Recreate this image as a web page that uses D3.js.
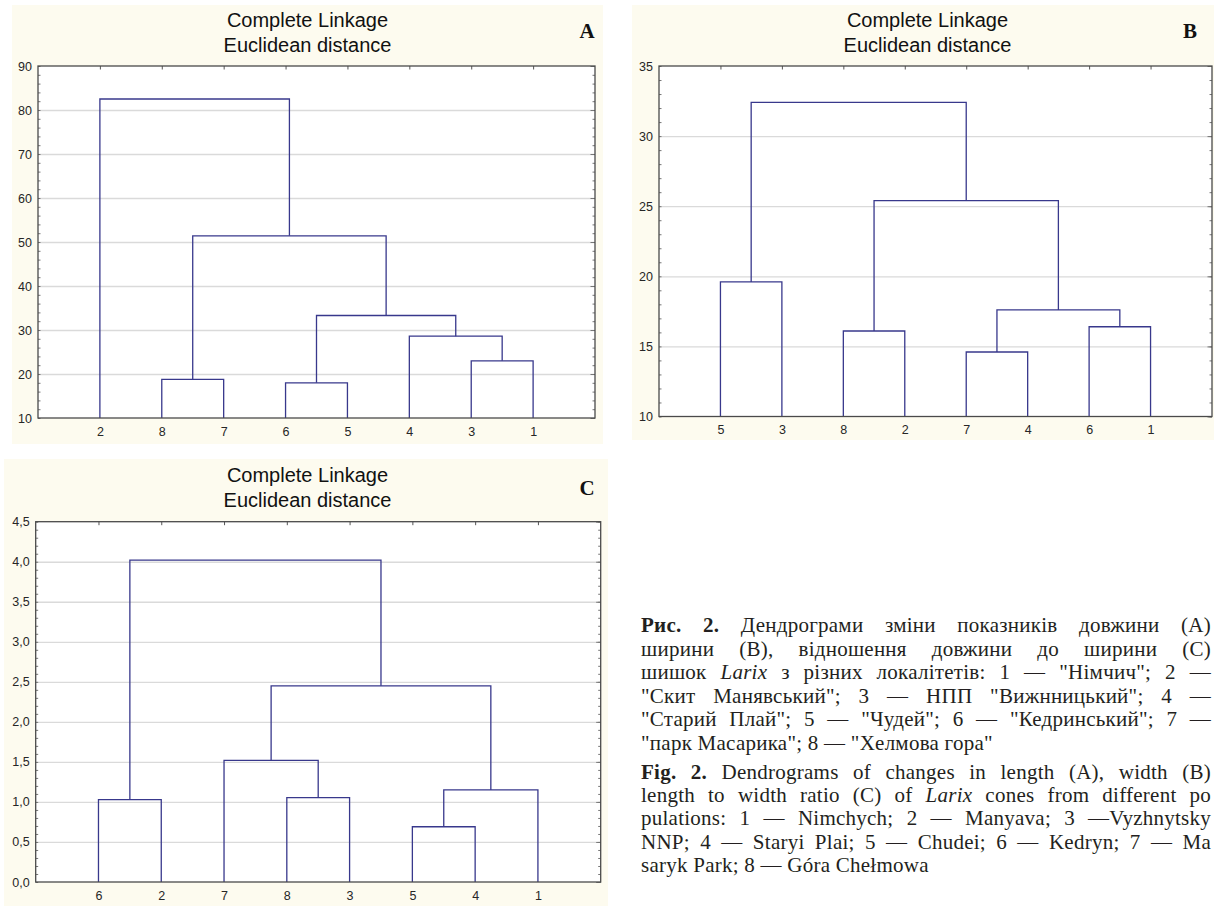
<!DOCTYPE html>
<html>
<head>
<meta charset="utf-8">
<script src="https://cdn.jsdelivr.net/npm/d3@7"></script>
<style>
	body { margin: 0; background: #ffffff; }
	svg { display: block; }
</style>
</head>
<body>
<div id="chart"></div>
<script>

// --------------------------------------------------------
// Data: leaf order of every dendrogram and its merges
// each merge = [left, right, height]; a string is a leaf, a number is an earlier merge
const leavesA   = [ "2", "8", "7", "6", "5", "4", "3", "1" ];
const mergesA   = [
	[ "6", "5", 18.0 ],
	[ "8", "7", 18.8 ],
	[ "3", "1", 23.0 ],
	[ "4", 2, 28.6 ],
	[ 0, 3, 33.3 ],
	[ 1, 4, 51.4 ],
	[ "2", 5, 82.5 ]
];
const yTicksA   = [ 10, 20, 30, 40, 50, 60, 70, 80, 90 ];

const leavesB   = [ "5", "3", "8", "2", "7", "4", "6", "1" ];
const mergesB   = [
	[ "7", "4", 14.6 ],
	[ "8", "2", 16.1 ],
	[ "6", "1", 16.4 ],
	[ 0, 2, 17.6 ],
	[ "5", "3", 19.6 ],
	[ 1, 3, 25.4 ],
	[ 4, 5, 32.4 ]
];
const yTicksB   = [ 10, 15, 20, 25, 30, 35 ];

const leavesC   = [ "6", "2", "7", "8", "3", "5", "4", "1" ];
const mergesC   = [
	[ "5", "4", 0.69 ],
	[ "6", "2", 1.03 ],
	[ "8", "3", 1.055 ],
	[ 0, "1", 1.15 ],
	[ "7", 2, 1.52 ],
	[ 4, 3, 2.45 ],
	[ 1, 5, 4.02 ]
];
const yTicksC   = [ 0, 0.5, 1, 1.5, 2, 2.5, 3, 3.5, 4, 4.5 ];

const titleLines = [ "Complete Linkage", "Euclidean distance" ];

// caption lines: [text, style] pieces (b = bold, i = italic)
const captionUk = [
	[ [ "Рис. 2.", "b" ], [ " Дендрограми зміни показників довжини (A)", "" ] ],
	[ [ "ширини (B), відношення довжини до ширини (C)", "" ] ],
	[ [ "шишок ", "" ], [ "Larix", "i" ], [ " з різних локалітетів: 1 — \"Німчич\"; 2 —", "" ] ],
	[ [ "\"Скит Манявський\"; 3 — НПП \"Вижнницький\"; 4 —", "" ] ],
	[ [ "\"Старий Плай\"; 5 — \"Чудей\"; 6 — \"Кедринський\"; 7 —", "" ] ],
	[ [ "\"парк Масарика\"; 8 — \"Хелмова гора\"", "" ] ]
];
const captionEn = [
	[ [ "Fig. 2.", "b" ], [ " Dendrograms of changes in length (A), width (B)", "" ] ],
	[ [ "length to width ratio (C) of ", "" ], [ "Larix", "i" ], [ " cones from different po", "" ] ],
	[ [ "pulations: 1 — Nimchych; 2 — Manyava; 3 —Vyzhnytsky", "" ] ],
	[ [ "NNP; 4 — Staryi Plai; 5 — Chudei; 6 — Kedryn; 7 — Ma", "" ] ],
	[ [ "saryk Park; 8 — Góra Chełmowa", "" ] ]
];

// --------------------------------------------------------
// Sizes
var chart_width     =   1214;
var chart_height    =   906;

var comma           =   d3.formatLocale({ decimal: ",", thousands: " ", grouping: [3], currency: ["", ""] });

const panels = [
	{ leaves: leavesA, merges: mergesA, ticks: yTicksA, minor: 2,
	  box: [12, 5, 603, 444], plot: [38, 66, 595, 418],
	  title_x: 307.5, title_y: 27, label: "A", label_x: 587, label_y: 38,
	  fmt: d3.format("d") },
	{ leaves: leavesB, merges: mergesB, ticks: yTicksB, minor: 1,
	  box: [632, 5, 1214, 440], plot: [659, 66, 1212, 416.5],
	  title_x: 927.5, title_y: 27, label: "B", label_x: 1190, label_y: 38,
	  fmt: d3.format("d") },
	{ leaves: leavesC, merges: mergesC, ticks: yTicksC, minor: 0.1,
	  box: [4, 459, 608, 906], plot: [35.7, 521.7, 600.7, 882],
	  title_x: 307.5, title_y: 482, label: "C", label_x: 587, label_y: 495,
	  fmt: comma.format(".1f") }
];

// --------------------------------------------------------
// Create the SVG
var svg = d3.select("#chart")
	.append("svg")
	.attr("width", chart_width)
	.attr("height", chart_height);

panels.forEach(drawPanel);

function drawPanel(p) {
	const g     = svg.append("g");
	const left  = p.plot[0], top = p.plot[1], right = p.plot[2], bottom = p.plot[3];
	const w     = right - left;

	// cream background of the panel
	g.append("rect")
		.attr("x", p.box[0]).attr("y", p.box[1])
		.attr("width", p.box[2] - p.box[0]).attr("height", p.box[3] - p.box[1])
		.attr("fill", "#fdfbef");

	// title
	g.selectAll(".title")
		.data(titleLines)
		.enter()
		.append("text")
		.attr("x", p.title_x)
		.attr("y", (d, i) => p.title_y + i * 25)
		.attr("text-anchor", "middle")
		.attr("font-family", "Liberation Sans, Arial, sans-serif")
		.attr("font-size", 20)
		.attr("fill", "#111")
		.text(d => d);

	g.append("text")
		.attr("x", p.label_x).attr("y", p.label_y)
		.attr("text-anchor", "middle")
		.attr("font-family", "Liberation Serif, Times New Roman, serif")
		.attr("font-weight", "bold")
		.attr("font-size", 21)
		.attr("fill", "#111")
		.text(p.label);

	// plot area
	g.append("rect")
		.attr("x", left).attr("y", top)
		.attr("width", w).attr("height", bottom - top)
		.attr("fill", "#ffffff");

	// scales
	const x_scale = d3.scaleLinear()
		.domain([0, p.leaves.length + 1])
		.range([left, right]);

	const y_scale = d3.scaleLinear()
		.domain([p.ticks[0], p.ticks[p.ticks.length - 1]])
		.range([bottom, top]);

	const minor = d3.range(p.ticks[0], p.ticks[p.ticks.length - 1] + p.minor / 2, p.minor);
	const slots = p.leaves.map((d, i) => i + 1);

	// grid lines
	const grid = g.append("g")
		.attr("transform", "translate(" + left + ",0)")
		.call(d3.axisLeft(y_scale).tickValues(p.ticks.slice(1, -1)).tickSize(-w).tickFormat(""));
	grid.select(".domain").remove();
	grid.selectAll("line").attr("stroke", "#dadada").attr("stroke-width", 1.3);

	// y labels
	const y_axis = g.append("g")
		.attr("transform", "translate(" + left + ",0)")
		.call(d3.axisLeft(y_scale).tickValues(p.ticks).tickSize(0).tickPadding(6).tickFormat(p.fmt));
	y_axis.select(".domain").remove();
	y_axis.selectAll("text")
		.attr("font-family", "Liberation Sans, Arial, sans-serif")
		.attr("font-size", 12.5)
		.attr("fill", "#262626");

	// minor ticks, left and right, pointing inside
	const minor_left = g.append("g")
		.attr("transform", "translate(" + left + ",0)")
		.call(d3.axisLeft(y_scale).tickValues(minor).tickSize(-2.5).tickFormat(""));
	const minor_right = g.append("g")
		.attr("transform", "translate(" + right + ",0)")
		.call(d3.axisRight(y_scale).tickValues(minor).tickSize(-2.5).tickFormat(""));
	const major_right = g.append("g")
		.attr("transform", "translate(" + right + ",0)")
		.call(d3.axisRight(y_scale).tickValues(p.ticks).tickSize(-4.5).tickFormat(""));
	[minor_left, minor_right, major_right].forEach(a => {
		a.select(".domain").remove();
		a.selectAll("line").attr("stroke", "#777");
	});

	// top ticks at the leaf slots
	const x_top = g.append("g")
		.attr("transform", "translate(0," + top + ")")
		.call(d3.axisTop(x_scale).tickValues(slots).tickSize(-3.5).tickFormat(""));
	x_top.select(".domain").remove();
	x_top.selectAll("line").attr("stroke", "#555");

	// leaf labels
	const x_axis = g.append("g")
		.attr("transform", "translate(0," + bottom + ")")
		.call(d3.axisBottom(x_scale).tickValues(slots).tickSize(0).tickPadding(9)
			.tickFormat(d => p.leaves[d - 1]));
	x_axis.select(".domain").remove();
	x_axis.selectAll("text")
		.attr("font-family", "Liberation Sans, Arial, sans-serif")
		.attr("font-size", 12.5)
		.attr("fill", "#262626");

	// dendrogram links
	const nodes = [];
	const pos = (m) => {
		if (typeof m === "number") return nodes[m];
		return { x: x_scale(p.leaves.indexOf(m) + 1), y: y_scale(p.ticks[0]) };
	};
	const links = p.merges.map(m => {
		const a = pos(m[0]), b = pos(m[1]);
		const yy = y_scale(m[2]);
		nodes.push({ x: (a.x + b.x) / 2, y: yy });
		return "M" + a.x + "," + a.y + "V" + yy + "H" + b.x + "V" + b.y;
	});

	g.append("g")
		.selectAll("path")
		.data(links)
		.enter()
		.append("path")
		.attr("d", d => d)
		.attr("fill", "none")
		.attr("stroke", "#38388c")
		.attr("stroke-width", 1.3);

	// frame
	g.append("rect")
		.attr("x", left).attr("y", top)
		.attr("width", w).attr("height", bottom - top)
		.attr("fill", "none")
		.attr("stroke", "#4a4a4a")
		.attr("stroke-width", 1.3);
}

// --------------------------------------------------------
// Caption (justified lines)
var cap_x       = 641;
var cap_width   = 570;

function drawParagraph(lines, y0, dy) {
	lines.forEach((line, i) => {
		const t = svg.append("text")
			.attr("x", cap_x)
			.attr("y", y0 + i * dy)
			.attr("font-family", "Liberation Serif, Times New Roman, serif")
			.attr("font-size", 21)
			.attr("letter-spacing", 0.25)
			.attr("fill", "#231f20");
		line.forEach(seg => {
			t.append("tspan")
				.attr("font-weight", seg[1] === "b" ? "bold" : null)
				.attr("font-style", seg[1] === "i" ? "italic" : null)
				.text(seg[0]);
		});
		if (i < lines.length - 1) {
			const full    = line.map(s => s[0]).join("");
			const spaces  = (full.match(/ /g) || []).length;
			const natural = t.node().getComputedTextLength();
			if (spaces > 0) t.style("word-spacing", ((cap_width - natural) / spaces) + "px");
		}
	});
}

drawParagraph(captionUk, 632, 23.6);
drawParagraph(captionEn, 779, 23.2);

</script>
</body>
</html>
